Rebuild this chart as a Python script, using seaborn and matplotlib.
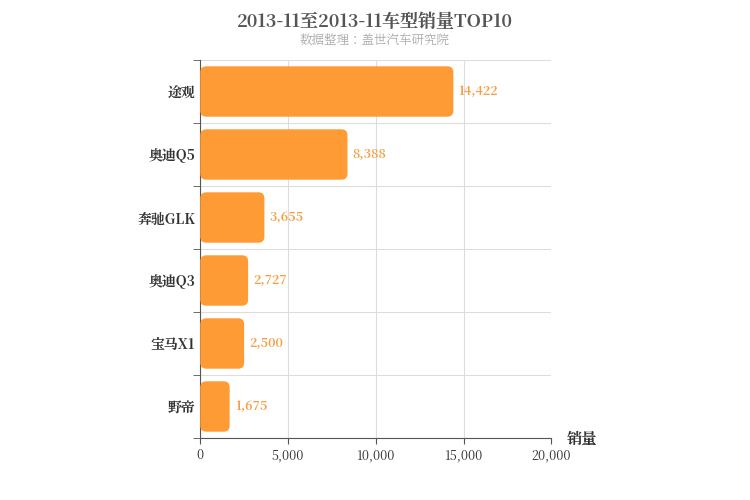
import matplotlib
matplotlib.use("Agg")
import matplotlib.pyplot as plt
from matplotlib import font_manager as fm
import seaborn as sns
import pandas as pd
from matplotlib.patches import FancyBboxPatch

models = ["途观", "奥迪Q5", "奔驰GLK", "奥迪Q3", "宝马X1", "野帝"]
sales = [14422, 8388, 3655, 2727, 2500, 1675]
xticks = [0, 5000, 10000, 15000, 20000]

cjk = [f.name for f in fm.fontManager.ttflist if "CJK" in f.name]
fam = "Noto Sans CJK SC" if "Noto Sans CJK SC" in cjk else (cjk[0] if cjk else "DejaVu Sans")
plt.rcParams["font.family"] = "sans-serif"
plt.rcParams["font.sans-serif"] = [fam, "DejaVu Sans"]

df = pd.DataFrame({"model": models, "sales": sales})
fig = plt.figure(figsize=(7.5, 5), dpi=100)
ax = fig.add_axes([0.267, 0.124, 0.468, 0.756])
sns.barplot(data=df, y="model", x="sales", color="#FF9B35", width=0.8, ax=ax, zorder=3)
for p in list(ax.patches):
    x, y, w, h = p.get_x(), p.get_y(), p.get_width(), p.get_height()
    p.remove()
    ax.add_patch(FancyBboxPatch((x, y), w, h, boxstyle="round,pad=0,rounding_size=340",
                                mutation_aspect=0.00028, fc="#FF9B35", ec="none", zorder=3))
for i, v in enumerate(sales):
    ax.text(v + 300, i, f"{v:,}", va="center", ha="left", color="#F5A047", fontsize=9, fontweight="bold")
ax.set_xlim(0, 20000)
ax.set_ylim(5.5, -0.5)
ax.set_xticks(xticks)
ax.set_xticklabels([f"{t:,}" for t in xticks], fontsize=9, color="#333")
ax.set_yticks(range(len(models)))
ax.set_yticklabels(models, fontsize=10, fontweight="bold", color="#333")
ax.set_yticks([i + 0.5 for i in range(-1, len(models))], minor=True)
ax.grid(True, axis="x", color="#DDDDDD", zorder=0)
ax.grid(True, axis="y", which="minor", color="#DDDDDD", zorder=0)
ax.tick_params(axis="y", which="major", length=0)
ax.tick_params(axis="y", which="minor", length=5, color="#555")
ax.tick_params(axis="x", length=4, color="#555")
ax.set_xlabel(""); ax.set_ylabel("")
for s in ["top", "right"]:
    ax.spines[s].set_visible(False)
ax.spines["left"].set_color("#555")
ax.spines["bottom"].set_color("#555")
fig.text(0.5, 0.955, "2013-11至2013-11车型销量TOP10", ha="center", va="center",
         fontsize=13, fontweight="bold", color="#555")
fig.text(0.5, 0.918, "数据整理：盖世汽车研究院", ha="center", va="center", fontsize=9, color="#AAAAAA")
fig.text(0.755, 0.122, "销量", ha="left", va="center", fontsize=11, fontweight="bold", color="#333")
fig.savefig("out.png", dpi=100)
